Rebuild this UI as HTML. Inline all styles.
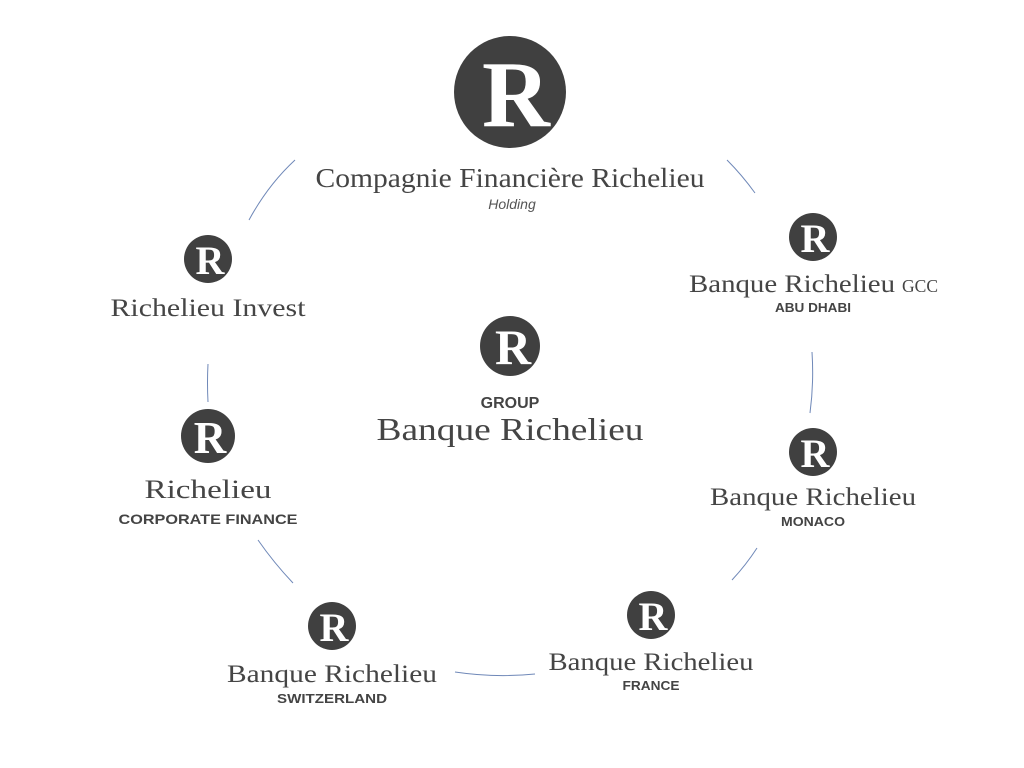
<!DOCTYPE html>
<html><head><meta charset="utf-8"><style>
html,body{margin:0;padding:0;background:#fff;width:1024px;height:768px;overflow:hidden}
svg{display:block}
.s{font-family:"Liberation Serif",serif;fill:#454545;text-anchor:middle}
.b{font-family:"Liberation Sans",sans-serif;font-weight:bold;fill:#444;text-anchor:middle}
.r{font-family:"Liberation Serif",serif;font-weight:bold;fill:#fff;text-anchor:middle}
</style></head><body>
<svg width="1024" height="768" viewBox="0 0 1024 768">
<g fill="none" stroke="#6f88b8" stroke-width="1">
<path d="M249 220 Q268 185 295 160"/>
<path d="M727 160 Q742 175 755 193"/>
<path d="M812 352 Q814 383 810 413"/>
<path d="M757 548 Q746 565 732 580"/>
<path d="M455 672 Q495 678 535 674"/>
<path d="M258 540 Q274 563 293 583"/>
<path d="M208 364 Q207 383 208 402"/>
</g>
<g fill="#404040">
<circle cx="510" cy="92" r="56"/>
<circle cx="208" cy="259" r="24"/>
<circle cx="813" cy="237" r="24"/>
<circle cx="510" cy="346" r="30"/>
<circle cx="208" cy="436" r="27"/>
<circle cx="813" cy="452" r="24"/>
<circle cx="651" cy="615" r="24"/>
<circle cx="332" cy="626" r="24"/>
</g>
<text class="r" x="516" y="126" font-size="94">R</text>
<text class="r" x="210" y="274" font-size="40">R</text>
<text class="r" x="815" y="252" font-size="40">R</text>
<text class="r" x="513" y="364" font-size="50">R</text>
<text class="r" x="210" y="453" font-size="45">R</text>
<text class="r" x="815" y="467" font-size="40">R</text>
<text class="r" x="653" y="630" font-size="40">R</text>
<text class="r" x="334" y="641" font-size="40">R</text>

<text class="s" x="510" y="187" font-size="27" textLength="389" lengthAdjust="spacingAndGlyphs">Compagnie Financière Richelieu</text>
<text x="512" y="209" font-family="Liberation Sans,sans-serif" font-style="italic" font-size="14" fill="#555" text-anchor="middle">Holding</text>
<text class="s" x="208" y="316" font-size="25" textLength="195" lengthAdjust="spacingAndGlyphs">Richelieu Invest</text>
<text class="s" x="792" y="292" font-size="25" textLength="206" lengthAdjust="spacingAndGlyphs">Banque Richelieu</text>
<text class="s" x="920" y="292" font-size="18" textLength="36" lengthAdjust="spacingAndGlyphs">GCC</text>
<text class="b" x="813" y="312" font-size="13" textLength="76" lengthAdjust="spacingAndGlyphs">ABU DHABI</text>
<text class="b" x="510" y="408" font-size="16">GROUP</text>
<text class="s" x="510" y="440" font-size="32" textLength="267" lengthAdjust="spacingAndGlyphs">Banque Richelieu</text>
<text class="s" x="208" y="498" font-size="26" textLength="127" lengthAdjust="spacingAndGlyphs">Richelieu</text>
<text class="b" x="208" y="524" font-size="14" textLength="179" lengthAdjust="spacingAndGlyphs">CORPORATE FINANCE</text>
<text class="s" x="813" y="505" font-size="25" textLength="206" lengthAdjust="spacingAndGlyphs">Banque Richelieu</text>
<text class="b" x="813" y="526" font-size="13" textLength="64" lengthAdjust="spacingAndGlyphs">MONACO</text>
<text class="s" x="651" y="670" font-size="25" textLength="205" lengthAdjust="spacingAndGlyphs">Banque Richelieu</text>
<text class="b" x="651" y="690" font-size="13" textLength="57" lengthAdjust="spacingAndGlyphs">FRANCE</text>
<text class="s" x="332" y="682" font-size="25" textLength="210" lengthAdjust="spacingAndGlyphs">Banque Richelieu</text>
<text class="b" x="332" y="703" font-size="13" textLength="110" lengthAdjust="spacingAndGlyphs">SWITZERLAND</text>
</svg>
</body></html>
